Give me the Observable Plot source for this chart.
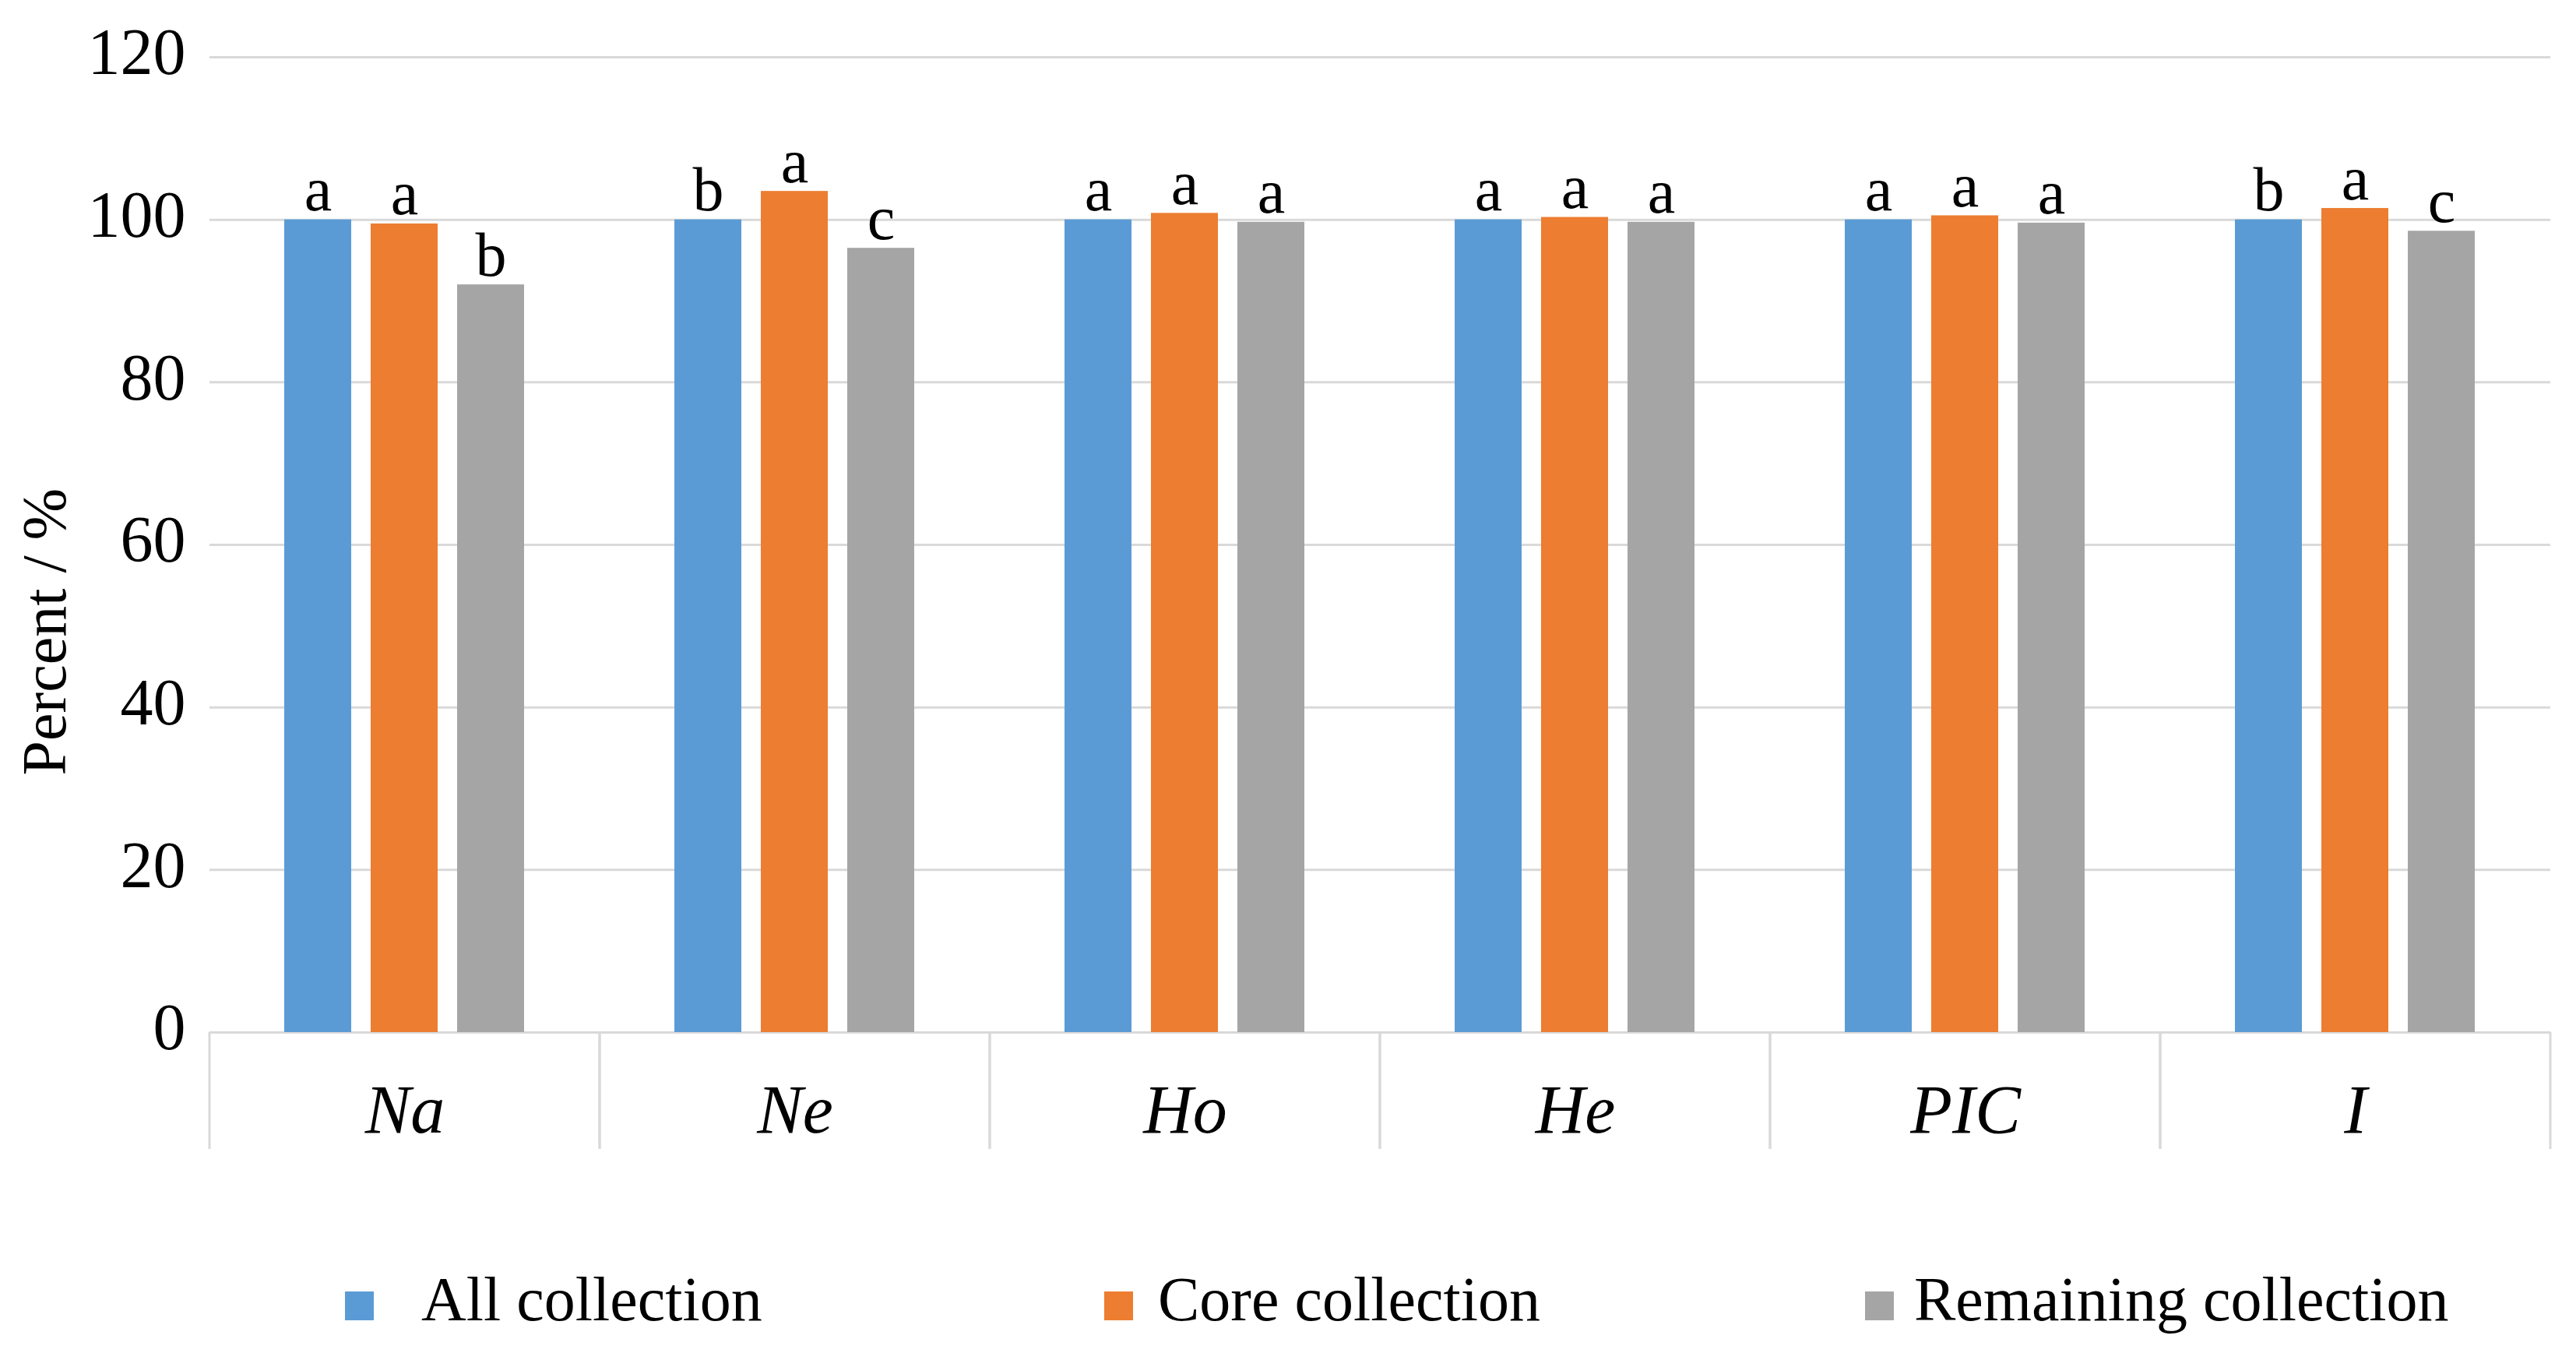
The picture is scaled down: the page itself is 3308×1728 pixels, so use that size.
<!DOCTYPE html>
<html><head><meta charset="utf-8">
<script src="https://cdn.jsdelivr.net/npm/d3@7"></script>
<script src="https://cdn.jsdelivr.net/npm/@observablehq/plot@0.6"></script>
<style>
html,body{margin:0;padding:0;background:#fff;}
#wrap{width:3308px;font-family:'Liberation Serif','Times New Roman',serif;background:#fff;}
#legend{position:relative;width:3308px;height:168px;}
.sw{position:absolute;width:37px;height:37px;}
.lt{position:absolute;font-size:80px;line-height:80px;white-space:nowrap;color:#000;}
</style></head><body><div id="wrap"><div id="chart"></div><div id="legend"></div></div>
<script>
// ---- data ----
const categories = ["Na", "Ne", "Ho", "He", "PIC", "I"];
const series = ["All collection", "Core collection", "Remaining collection"];
const allValues = [100, 100, 100, 100, 100, 100];
const coreValues = [99.5, 103.5, 100.8, 100.3, 100.5, 101.4];
const remainingValues = [92.0, 96.5, 99.7, 99.7, 99.6, 98.6];
const allLetters = ["a", "b", "a", "a", "a", "b"];
const coreLetters = ["a", "a", "a", "a", "a", "a"];
const remainingLetters = ["b", "c", "a", "a", "a", "c"];
const yTicks = [0, 20, 40, 60, 80, 100, 120];
const yLabel = "Percent / %";
const colors = ["#5b9bd5", "#ed7d31", "#a5a5a5"];

// ---- table ----
const valueSets = [allValues, coreValues, remainingValues];
const letterSets = [allLetters, coreLetters, remainingLetters];
const rows = [];
categories.forEach((c, i) => {
  series.forEach((s, j) => {
    rows.push({cat: c, series: s, value: valueSets[j][i], letter: letterSets[j][i]});
  });
});

const gridColor = "#d9d9d9";

// category separators below the axis at each facet edge
const separators = (index, scales, values, dimensions) => {
  const {marginLeft, marginRight, width} = dimensions;
  const y0 = scales.y(0);
  const g = d3.create("svg:g").attr("stroke", gridColor).attr("stroke-width", 3);
  for (const x of [marginLeft, width - marginRight]) {
    g.append("line").attr("x1", x).attr("x2", x).attr("y1", y0).attr("y2", y0 + 150);
  }
  return g.node();
};

const chart = Plot.plot({
  width: 3308,
  height: 1560,
  marginLeft: 268,
  marginRight: 32,
  marginTop: 73,
  marginBottom: 235,
  style: {fontFamily: "'Liberation Serif','Times New Roman',serif", fontSize: "80px", color: "#000", background: "#fff", overflow: "visible"},
  fx: {domain: categories, padding: 0},
  x: {domain: series, paddingInner: 0.223, paddingOuter: 0.85, axis: null},
  y: {domain: [0, 120]},
  color: {domain: series, range: colors},
  marks: [
    Plot.ruleY(yTicks, {stroke: gridColor, strokeWidth: 3}),
    separators,
    Plot.barY(rows, {fx: "cat", x: "series", y: "value", fill: "series"}),
    Plot.text(rows, {fx: "cat", x: "series", y: "value", text: "letter", lineAnchor: "bottom", dy: -12, fontSize: 80, fill: "#000"}),
    Plot.axisY({ticks: yTicks, tickSize: 0, tickPadding: 31, fontSize: 84, label: null, dy: -5}),
    Plot.axisFx({anchor: "bottom", tickSize: 0, tickPadding: 66, fontSize: 88, fontStyle: "italic", label: null}),
    Plot.text([yLabel], {fx: [categories[0]], frameAnchor: "left", rotate: -90, dx: -211, dy: 296, fontSize: 80, fill: "#000"})
  ]
});
document.getElementById("chart").appendChild(chart);

// ---- legend ----
const swatchLeft = [443, 1418, 2395];
const textLeft = [541, 1487, 2458];
const legend = document.getElementById("legend");
series.forEach((s, j) => {
  const sw = document.createElement("div");
  sw.className = "sw";
  sw.style.left = swatchLeft[j] + "px";
  sw.style.top = "98px";
  sw.style.background = colors[j];
  legend.appendChild(sw);
  const t = document.createElement("div");
  t.className = "lt";
  t.style.left = textLeft[j] + "px";
  t.style.top = "68px";
  t.textContent = s;
  legend.appendChild(t);
});
</script></body></html>
